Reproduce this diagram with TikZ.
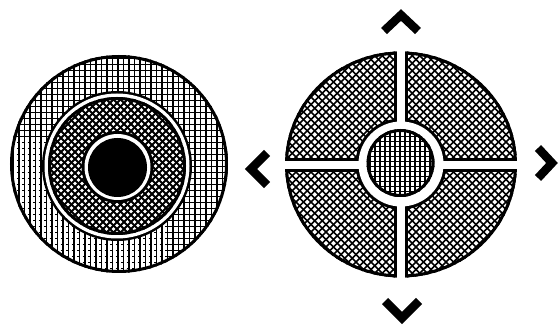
\documentclass[tikz,border=0pt]{standalone}
\begin{document}
\begin{tikzpicture}[x=1pt,y=-1pt,
  gridline/.style={line width=1.2pt,black},
  crossline/.style={line width=0.9pt,black},
  diagline/.style={line width=1.8pt,black},
  quadline/.style={line width=1.6pt,black},
  chev/.style={line width=8.5pt,line join=miter,line cap=butt,black},
  rim/.style={line width=3pt,black}]
\fill[white] (0,0) rectangle (559,328);
\useasboundingbox (0,0) rectangle (559,328);

% ---------- left disc ----------
\coordinate (LO) at (119,164);
\begin{scope}
  \clip (LO) circle[radius=109pt];
  \foreach \x in {8,13.5,...,233} \draw[gridline] (\x,50) -- (\x,280);
  \begin{scope}
    \clip (0,0) rectangle (559,140) (165,0) rectangle (559,328);
    \foreach \y in {52,58,...,280} \draw[crossline] (0,\y) -- (240,\y);
  \end{scope}
  \begin{scope}
    \clip (0,140) rectangle (165,328);
    \foreach \y in {52,58,...,280} \draw[crossline,dash pattern=on 1.5pt off 4pt] (0,\y) -- (240,\y);
  \end{scope}
\end{scope}
\draw[rim] (LO) circle[radius=107.5pt];

\begin{scope}[shift={(117,166)}]
  \fill[black] (0,0) circle[radius=75pt];
  \fill[white] (0,0) circle[radius=72.5pt];
  \begin{scope}
    \clip (0,0) circle[radius=69pt];
    \foreach \c in {-105,-98,...,105} {
      \draw[diagline] (\c-80,-80) -- ++(160,160);
      \draw[diagline] (\c-80,80) -- ++(160,-160);
    }
  \end{scope}
  \draw[rim] (0,0) circle[radius=67.5pt];
  \fill[black] (0.5,1) circle[radius=36pt];
  \fill[white] (0.5,1) circle[radius=33pt];
  \fill[black] (0.5,1.5) circle[radius=29.5pt];
\end{scope}

% ---------- right disc ----------
\begin{scope}[shift={(401,164.5)}]
  \begin{scope}
    \clip (0,0) circle[x radius=116pt, y radius=113pt];
    \foreach \c in {-165,-157.5,...,165} {
      \draw[quadline] (\c-120,-120) -- ++(240,240);
      \draw[quadline] (\c-120,120) -- ++(240,-240);
    }
  \end{scope}
  \draw[rim] (0,0) circle[x radius=114.5pt, y radius=111.5pt];
  \begin{scope}
    \clip (0,0) circle[x radius=116pt, y radius=113pt];
    \draw[line width=14pt] (-130,0.5) -- (130,0.5);
    \draw[line width=14pt] (0,-130) -- (0,130);
  \end{scope}
  \fill[black] (0,-0.5) circle[radius=45.5pt];
  \draw[white,line width=8pt] (-130,0.5) -- (130,0.5);
  \draw[white,line width=8pt] (0,-130) -- (0,130);
  \fill[white] (0,-0.5) circle[radius=42.5pt];
  \begin{scope}
    \clip (-0.5,-1.5) circle[radius=34pt];
    \foreach \x in {-36,-31,...,36} \draw[line width=1.5pt] (\x,-40) -- (\x,40);
    \foreach \x in {8.5,13.5,...,36} \draw[line width=1.1pt] (\x,-40) -- (\x,40);
    \foreach \y in {-38,-33,...,36} \draw[line width=1.5pt] (-40,\y) -- (40,\y);
  \end{scope}
  \draw[rim] (-0.5,-1.5) circle[radius=32.5pt];
\end{scope}

% ---------- chevrons ----------
\draw[chev] (384,31) -- (401,15) -- (418,31);
\draw[chev] (267,153) -- (251,169) -- (267,185);
\draw[chev] (538,148) -- (552,163) -- (538,178);
\draw[chev] (385,301) -- (402,318) -- (419,301);
\end{tikzpicture}
\end{document}
